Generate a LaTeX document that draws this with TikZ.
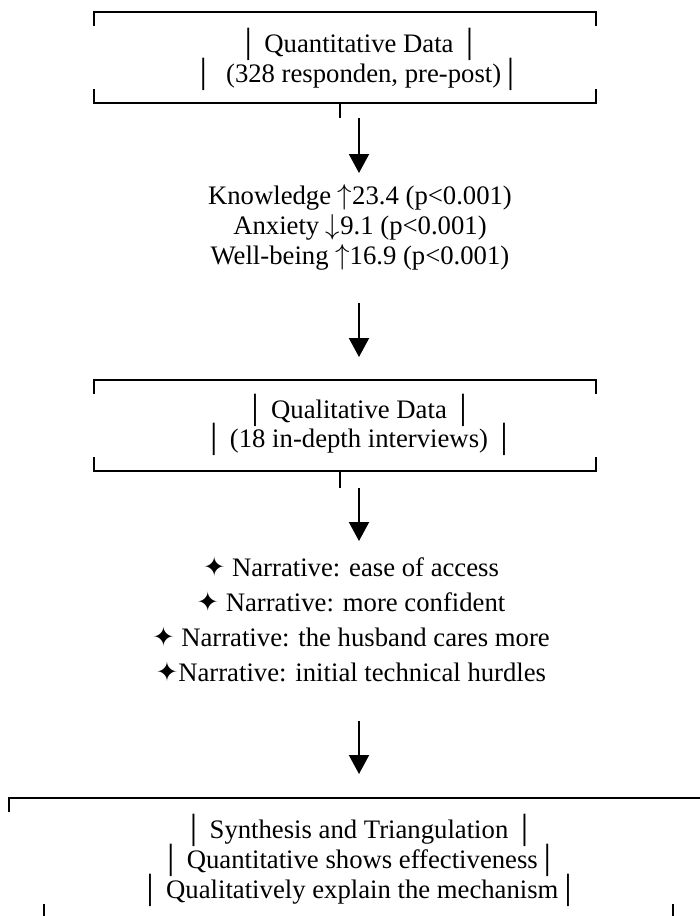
\documentclass[tikz,border=0pt]{standalone}
\usepackage{fontspec}
\setmainfont{Liberation Serif}
\newfontfamily\symfont{DejaVu Sans}
\usetikzlibrary{arrows.meta, positioning}

\begin{document}
\begin{tikzpicture}[
    x=0.5pt, y=-0.5pt, >={Triangle[length=9.5pt, width=10pt]},
    txt/.style={anchor=base, inner sep=0pt,
                font=\fontsize{13.35pt}{15pt}\selectfont},
    edge/.style={line width=1pt},
    flow/.style={->, line width=1pt}
  ]
  \useasboundingbox (0,0) rectangle (700,916);

  % Quantitative data box
  \draw[edge] (94,26) -- (94,12) -- (596,12) -- (596,26);
  \draw[edge] (94,89) -- (94,103) -- (596,103) -- (596,89);
  \draw[edge] (340,103) -- (340,118);
  \node[txt] (quanA) at (359,52) {│ Quantitative Data │};
  \node[txt] (quanB) at (357,82) {│\ \ (328 responden, pre-post)│};

  % Results
  \node[txt] (metK) at (360,204) {Knowledge \(\uparrow\)23.4 (p<0.001)};
  \node[txt] (metA) at (360,234) {Anxiety \(\downarrow\)9.1 (p<0.001)};
  \node[txt] (metW) at (360,264) {Well-being \(\uparrow\)16.9 (p<0.001)};

  % Qualitative data box
  \draw[edge] (94,394) -- (94,380) -- (596,380) -- (596,394);
  \draw[edge] (94,457) -- (94,471) -- (596,471) -- (596,457);
  \draw[edge] (340,471) -- (340,488);
  \node[txt] (qualA) at (359,418) {│ Qualitative Data │};
  \node[txt] (qualB) at (359,447) {│ (18 in-depth interviews) │};

  % Narratives
  \node[txt] (narr1) at (351,576) {{\symfont ✦} Narrative: ease of access};
  \node[txt] (narr2) at (351,611) {{\symfont ✦} Narrative: more confident};
  \node[txt] (narr3) at (351,646) {{\symfont ✦} Narrative: the husband cares more};
  \node[txt] (narr4) at (351,681) {{\symfont ✦}Narrative: initial technical hurdles};

  % Synthesis box
  \draw[edge] (9,812) -- (9,798) -- (700,798);
  \draw[edge] (44,904) -- (44,916);
  \draw[edge] (673,904) -- (673,916);
  \node[txt] (synA) at (359,838) {│ Synthesis and Triangulation │};
  \node[txt] (synB) at (359,868) {│ Quantitative shows effectiveness│};
  \node[txt] (synC) at (359,898) {│ Qualitatively explain the mechanism│};

  % Arrows
  \coordinate (a1) at (359,118);
  \coordinate (a2) at (359,303);
  \coordinate (a3) at (359,488);
  \coordinate (a4) at (359,721);
  \draw[flow] (a1) -- (a1 |- 0,173);
  \draw[flow] (a2) -- (a2 |- 0,357);
  \draw[flow] (a3) -- (a3 |- 0,541);
  \draw[flow] (a4) -- (a4 |- 0,774);
\end{tikzpicture}
\end{document}
